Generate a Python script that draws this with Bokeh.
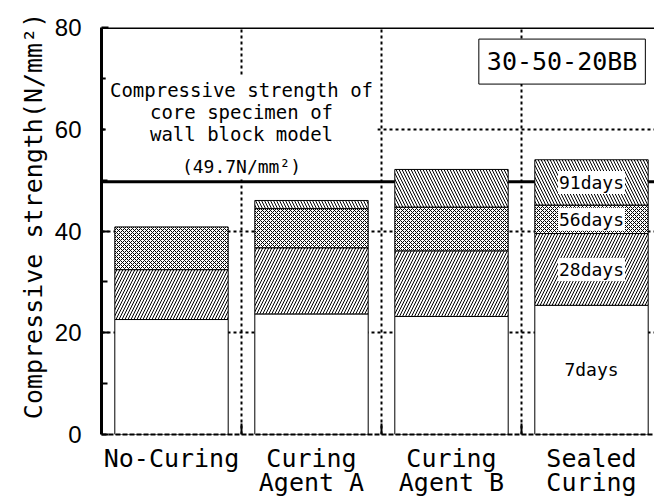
from bokeh.plotting import figure
from bokeh.models import FixedTicker, Span, Label, BoxAnnotation, ColumnDataSource, LinearAxis
from bokeh.embed import file_html
from bokeh.resources import INLINE
import numpy as np

# ---- data ----
cat_line1 = ["No-Curing", "Curing", "Curing", "Sealed"]
cat_line2 = ["", "Agent A", "Agent B", "Curing"]
ages = ["7days", "28days", "56days", "91days"]
s7 = [22.6, 23.7, 23.2, 25.4]
s28 = [32.4, 36.7, 36.1, 39.5]
s56 = [40.8, 44.4, 44.7, 45.1]
s91 = [np.nan, 46.0, 52.1, 54.0]
core_strength = 49.7
y_ticks = [0, 20, 40, 60, 80]
y_minor = [10, 30, 50, 70]
mix_name = "30-50-20BB"

MONO = "DejaVu Sans Mono"

xc = [i + 0.5 for i in range(len(cat_line1))]

p = figure(frame_width=553, frame_height=407, x_range=(0, 3.95), y_range=(0, 80),
           output_backend="svg", toolbar_location=None,
           min_border_left=101, min_border_right=0, min_border_top=27, min_border_bottom=63)
p.outline_line_color = None
p.background_fill_color = "white"

# grids
p.xgrid.ticker = FixedTicker(ticks=[1, 2, 3])
p.ygrid.ticker = FixedTicker(ticks=[20, 40, 60])
for g in (p.xgrid, p.ygrid):
    g.grid_line_color = "black"
    g.grid_line_dash = "3 3"
    g.grid_line_width = 2

# reference line (behind bars)
p.add_layout(Span(location=core_strength, dimension="width", line_color="black",
                  line_width=3, level="underlay"))
# top border
p.add_layout(Span(location=80, dimension="width", line_color="black", line_width=3))

# stacked segments
bottoms = [[0] * 4, s7, s28, s56]
tops = [s7, s28, s56, s91]
hatches = [" ", "/", "x", "\\"]
scales = [6, 6, 4, 6]
W = 0.81
for b, t, h, sc in zip(bottoms, tops, hatches, scales):
    src = ColumnDataSource(dict(x=xc, bottom=b, top=t))
    p.vbar(x="x", bottom="bottom", top="top", width=W, source=src,
           fill_color="white", line_color="black", line_width=1,
           hatch_pattern=h, hatch_color="black", hatch_scale=sc, hatch_weight=1)

# white box behind annotation text
p.add_layout(BoxAnnotation(left=0.03, right=1.97, bottom=50.6, top=70.5,
                           fill_color="white", fill_alpha=1, line_color=None))
p.add_layout(Label(x=1.0, y=63.4, text="Compressive strength of\ncore specimen of\nwall block model",
                   text_align="center", text_baseline="middle", text_font=MONO,
                   text_font_size="19px", text_color="black", text_line_height=1.0))
p.add_layout(Label(x=1.0, y=52.6, text="(49.7N/mm²)", text_align="center",
                   text_baseline="middle", text_font=MONO, text_font_size="18px",
                   text_color="black"))

# mix label box
p.add_layout(Label(x=3.29, y=73.3, text=mix_name, text_align="center", text_baseline="middle",
                   text_font=MONO, text_font_size="25px", text_color="black",
                   background_fill_color="white", border_line_color="black",
                   border_line_width=1, padding=8))

# age labels inside last bar
last = len(cat_line1) - 1
mids = [s7[last] / 2, (s7[last] + s28[last]) / 2, (s28[last] + s56[last]) / 2,
        (s56[last] + s91[last]) / 2]
for age, m in zip(ages, mids):
    p.add_layout(Label(x=xc[last], y=m, text=age, text_align="center", text_baseline="middle",
                       text_font=MONO, text_font_size="18px", text_color="black",
                       background_fill_color="white", padding=1))

# axes
p.xaxis.ticker = FixedTicker(ticks=xc, minor_ticks=[1, 2, 3])
p.xaxis.major_label_overrides = {x: c for x, c in zip(xc, cat_line1)}
p.xaxis.major_tick_line_color = None
p.xaxis.minor_tick_in = 11
p.xaxis.minor_tick_out = 0
p.xaxis.minor_tick_line_width = 2
p.xaxis.minor_tick_line_color = "black"
p.xaxis.axis_line_width = 2
p.xaxis.axis_line_dash = "5 2"
p.xaxis.axis_line_color = "black"
p.xaxis.major_label_text_font = MONO
p.xaxis.major_label_text_font_size = "25px"
p.xaxis.major_label_text_color = "black"
p.xaxis.major_label_standoff = 3
p.xaxis.axis_label_standoff = 0

ax2 = LinearAxis(ticker=FixedTicker(ticks=xc),
                 major_label_overrides={x: (c if c else " ") for x, c in zip(xc, cat_line2)},
                 axis_line_color=None, major_tick_line_color=None, minor_tick_line_color=None,
                 major_tick_in=0, major_tick_out=0, minor_tick_in=0, minor_tick_out=0,
                 major_label_text_font=MONO, major_label_text_font_size="25px",
                 major_label_text_color="black", major_label_standoff=-8,
                 axis_label_standoff=0)
p.add_layout(ax2, "below")

p.yaxis.ticker = FixedTicker(ticks=y_ticks, minor_ticks=y_minor)
p.yaxis.axis_line_width = 3
p.yaxis.axis_line_color = "black"
p.yaxis.major_tick_in = 7
p.yaxis.major_tick_out = 0
p.yaxis.minor_tick_in = 6
p.yaxis.minor_tick_out = 0
p.yaxis.major_tick_line_width = 2
p.yaxis.minor_tick_line_width = 2
p.yaxis.major_tick_line_color = "black"
p.yaxis.minor_tick_line_color = "black"
p.yaxis.major_label_text_font = "Liberation Sans"
p.yaxis.major_label_text_font_size = "24px"
p.yaxis.major_label_text_color = "black"
p.yaxis.major_label_standoff = 20
p.yaxis.axis_label = "\u00a0\u00a0Compressive strength(N/mm²)"
p.yaxis.axis_label_text_font = MONO
p.yaxis.axis_label_text_font_size = "25px"
p.yaxis.axis_label_text_font_style = "normal"
p.yaxis.axis_label_text_color = "black"
p.yaxis.axis_label_standoff = 4

open("out.html", "w").write(file_html(p, INLINE))
